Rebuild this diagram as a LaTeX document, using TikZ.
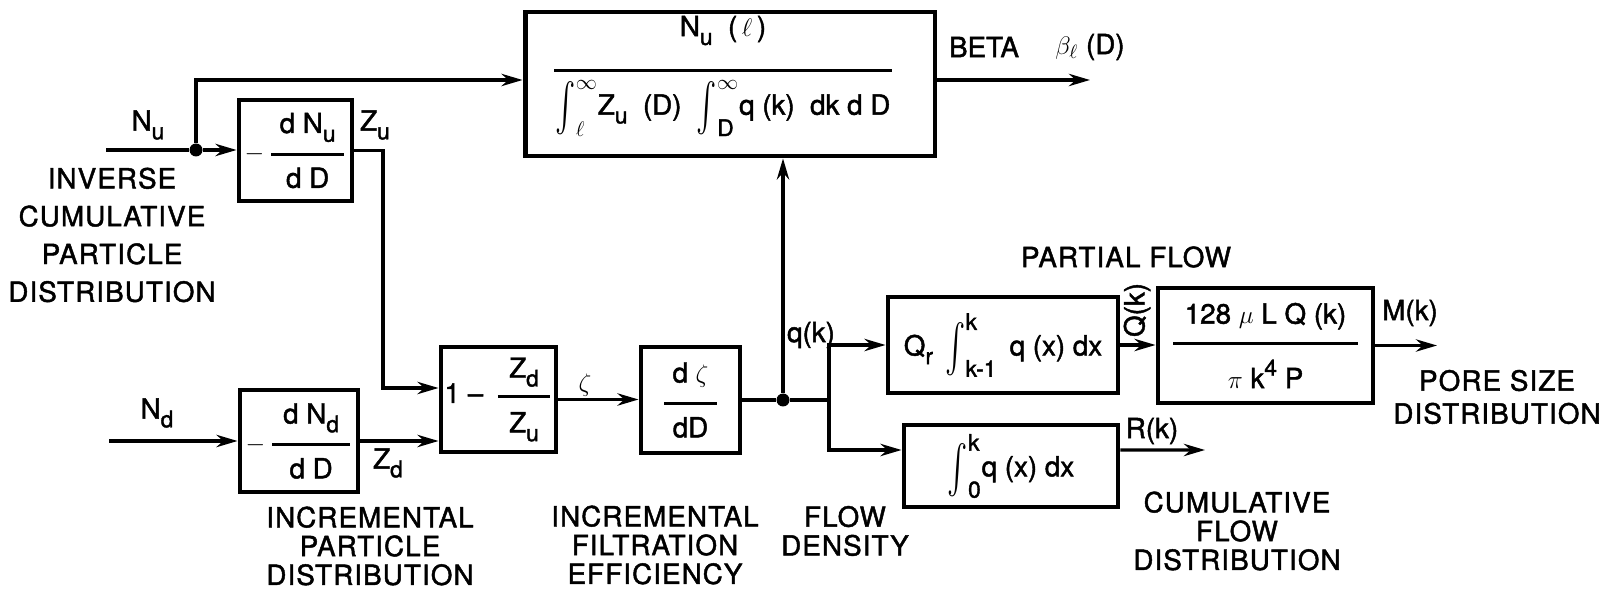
\documentclass[tikz,border=0pt]{standalone}
\usepackage{amsmath}
\usepackage{graphicx}
\usepackage{fontspec}
\setmainfont{TeX Gyre Heros}[FakeBold=1.6]
\newfontfamily\capfont{TeX Gyre Heros}[FakeBold=1.6, LetterSpace=4]
\usetikzlibrary{arrows.meta,positioning}

\newlength\numsep \setlength\numsep{6.5pt}
\newlength\densep \setlength\densep{13.5pt}
\newcommand\dn[1]{\raisebox{-0.6ex}{\fontsize{13}{13}\selectfont #1}}
\newcommand\hi[1]{\raisebox{0.85ex}{\fontsize{13}{13}\selectfont #1}}
\newcommand\ratio[3]{$\genfrac{}{}{1.6pt}{0}{\hbox to #1{\hss\rule[-\numsep]{0pt}{0pt}#2\hss}}{\hbox to #1{\hss\rule{0pt}{\densep}#3\hss}}$}
\newcommand\integ[2]{\mathop{\vcenter{\hbox{\scalebox{1.2}[1.9]{$\int$}}}}\nolimits_{\mbox{\fontsize{13}{13}\selectfont #1}}^{\mbox{\fontsize{13}{13}\selectfont #2}}}

\begin{document}
\begin{tikzpicture}[x=0.02cm, y=-0.02cm,
    font=\fontsize{15.8}{19}\selectfont,
    blk/.style={draw, line width=2.8pt, inner sep=0pt},
    wire/.style={line width=1.9pt},
    flow/.style={line width=1.9pt, -{Stealth[length=12pt,width=7pt]}},
    dot/.style={circle, fill, inner sep=0pt, minimum size=0.26cm},
    caption/.style={align=center, font=\capfont\fontsize{15.8}{16.4}\selectfont}]
  \useasboundingbox (0,0) rectangle (1615,590);

  % blocks
  \node[blk, minimum width=8.2cm, minimum height=2.88cm] (beta) at (730,84) {};
  \node (betafrac) at (723,76) {\setlength\numsep{13.75pt}\setlength\densep{19pt}%
    \ratio{6.75cm}{N\dn{u} \ (\,$\ell$\,)}{$\integ{$\ell$}{$\infty$}$Z\dn{u} \ (D) \ $\integ{D}{$\infty$}$q (k) \ dk d D}};
  \node[blk, minimum width=2.26cm, minimum height=2.02cm] (dnu) at (295.5,150.5)
    {$-$\,\ratio{1.46cm}{d N\dn{u}}{d D}};
  \node[blk, minimum width=2.36cm, minimum height=2.04cm] (dnd) at (299,441)
    {$-$\,\ratio{1.56cm}{d N\dn{d}}{d D}};
  \node[blk, minimum width=2.3cm, minimum height=2.1cm] (zrat) at (498.5,399.5)
    {\setlength\numsep{3pt}\setlength\densep{14.75pt}1 --\hspace{0.25cm}\ratio{1.05cm}{Z\dn{d}}{Z\dn{u}}};
  \node[blk, minimum width=1.98cm, minimum height=2.12cm] (dzeta) at (690.5,400)
    {\ratio{1.05cm}{d $\zeta$}{dD}};
  \node[blk, minimum width=4.6cm, minimum height=1.92cm] (qr) at (1003,345)
    {Q\dn{r}\, $\integ{k-1}{k}$\, q (x) dx};
  \node[blk, minimum width=4.28cm, minimum height=1.64cm] (cum) at (1011,466)
    {$\integ{0}{k}$q (x) dx};
  \node[blk, minimum width=4.3cm, minimum height=2.3cm] (pore) at (1265.5,345.5)
    {\setlength\numsep{5.75pt}\setlength\densep{19.75pt}\ratio{3.7cm}{128 $\mu$ L Q (k)}{$\pi$ k\hi{4} P}};

  % junctions and free ends
  \node[dot] (jn) at (196,150) {};
  \node[dot] (jq) at (783,400) {};
  \coordinate (nuin) at (106,150);
  \coordinate (ndin) at (109,441);
  \coordinate (upr) at (196,80);
  \coordinate (betaout) at (1090,80);
  \coordinate (zubend) at (383,388);
  \coordinate (br) at (829,400);
  \coordinate (mout) at (1437,345.5);
  \coordinate (rout) at (1205,450);

  % connectors
  \draw[wire] (nuin) -- (jn);
  \draw[flow] (jn) -- (jn -| dnu.west);
  \draw[flow] (jn) -- (upr) -- (upr -| beta.west);
  \draw[flow] (upr -| beta.east) -- (betaout);
  \draw[flow] (dnu.east) -| (zubend) -- (zubend -| zrat.west);
  \draw[flow] (ndin) -- (ndin -| dnd.west);
  \draw[flow] (dnd.east) -- (dnd.east -| zrat.west);
  \draw[flow] (zrat.east) -- (zrat.east -| dzeta.west);
  \draw[wire] (dzeta.east) -- (jq);
  \draw[flow] (jq) -- (jq |- beta.south);
  \draw[wire] (jq) -- (br);
  \draw[flow] (br) |- (qr.west);
  \draw[flow] (br) |- ([yshift=0.32cm]cum.west);
  \draw[flow] (qr.east) -- (qr.east -| pore.west);
  \draw[flow] (pore.east) -- (mout);
  \draw[flow] ([yshift=0.32cm]cum.east) -- (rout);

  % signal labels
  \node (nulbl) at (148,125) {N\dn{u}};
  \node (zulbl) at (375,125) {Z\dn{u}};
  \node (ndlbl) at (157,413) {N\dn{d}};
  \node (zdlbl) at (388,463) {Z\dn{d}};
  \node (zetalbl) at (585,385) {$\zeta$};
  \node (qklbl) at (811,335) {q(k)};
  \node[rotate=90] (qlbl) at (1137,310) {Q(k)};
  \node (mlbl) at (1410,313) {M(k)};
  \node (rlbl) at (1152,431) {R(k)};
  \node (betalbl) at (984,47) {BETA};
  \node (betasym) at (1090,47) {$\beta_\ell$ (D)};

  % captions
  \node[caption, font=\capfont\fontsize{15.8}{21.5}\selectfont] (invcum) at (112,235)
    {INVERSE\\CUMULATIVE\\PARTICLE\\DISTRIBUTION};
  \node[caption] (incpart) at (370,546) {INCREMENTAL\\PARTICLE\\DISTRIBUTION};
  \node[caption] (incfilt) at (655,545) {INCREMENTAL\\FILTRATION\\EFFICIENCY};
  \node[caption] (flowden) at (845,531) {FLOW\\DENSITY};
  \node[caption] (partial) at (1126,257) {PARTIAL FLOW};
  \node[caption] (cumflow) at (1237,531) {CUMULATIVE\\FLOW\\DISTRIBUTION};
  \node[caption, font=\capfont\fontsize{15.8}{18.7}\selectfont] (poresz) at (1497,397)
    {PORE SIZE\\DISTRIBUTION};
\end{tikzpicture}
\end{document}
